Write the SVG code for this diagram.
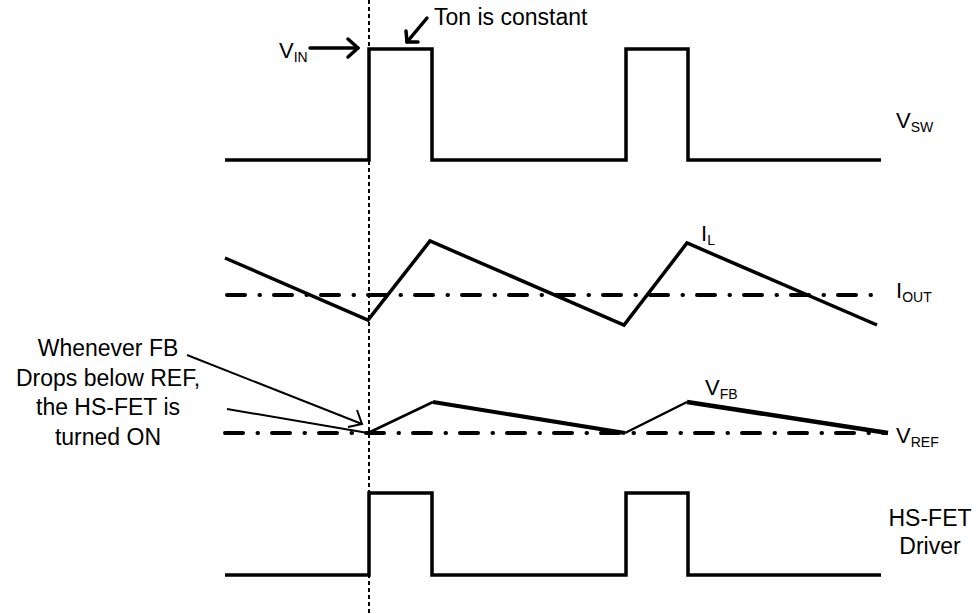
<svg xmlns="http://www.w3.org/2000/svg" width="978" height="614" viewBox="0 0 978 614">
<style>
  text { font-family: "Liberation Sans", Arial, sans-serif; fill: #000; }
  .lbl { font-size: 22px; }
  .txt { font-size: 23px; }
  .sub { font-size: 14px; }
  .wave { fill: none; stroke: #000; stroke-width: 3.5; stroke-linejoin: miter; }
  .dashdot { fill: none; stroke: #000; stroke-width: 4; stroke-linecap: round; stroke-dasharray: 18 14.5 0.5 14; }
  .guide { fill: none; stroke: #000; stroke-width: 2; stroke-dasharray: 4 3; }
  .ann { fill: none; stroke: #000; stroke-width: 2; }
  .arr { fill: none; stroke: #000; stroke-width: 3.5; stroke-linecap: round; stroke-linejoin: round; }
</style>
<rect width="978" height="614" fill="#fff"/>

<g id="guide-line">
  <line class="guide" x1="369" y1="0" x2="369" y2="614"/>
</g>

<g id="vsw">
  <path class="wave" d="M225,160 H369 V49 H432 V160 H626 V49 H688 V160 H881"/>
  <text class="lbl" x="896" y="128">V<tspan class="sub" dy="4">SW</tspan></text>
</g>

<g id="vin">
  <text class="lbl" x="279" y="58">V<tspan class="sub" dy="4">IN</tspan></text>
</g>

<g id="ton">
  <text class="txt" x="434" y="25">Ton is constant</text>
</g>

<g id="il">
  <line class="dashdot" x1="227" y1="295" x2="875" y2="295"/>
  <path class="wave" d="M225,258 L368,320 L430,241 L624,325 L687,243 L877,325"/>
  <text class="lbl" x="701" y="241">I<tspan class="sub" dy="4">L</tspan></text>
  <text class="lbl" x="896" y="298">I<tspan class="sub" dy="4">OUT</tspan></text>
</g>

<g id="vfb">
  <line class="dashdot" x1="225" y1="433" x2="886" y2="433"/>
  <path fill="none" stroke="#000" stroke-width="2.5" d="M368,433 L433,402"/>
  <path fill="none" stroke="#000" stroke-width="4" d="M433,402 L625,433"/>
  <path fill="none" stroke="#000" stroke-width="2.5" d="M625,433 L687,402"/>
  <path fill="none" stroke="#000" stroke-width="4.5" d="M687,402 L888,433"/>
  <text class="lbl" x="705" y="395">V<tspan class="sub" dy="4">FB</tspan></text>
  <text class="lbl" x="896" y="443">V<tspan class="sub" dy="4">REF</tspan></text>
</g>

<g id="note">
  <text class="txt" text-anchor="middle" x="108" y="356">Whenever FB</text>
  <text class="txt" text-anchor="middle" x="108" y="386">Drops below REF,</text>
  <text class="txt" text-anchor="middle" x="108" y="415">the HS-FET is</text>
  <text class="txt" text-anchor="middle" x="108" y="445">turned ON</text>
</g>

<g id="driver">
  <path class="wave" d="M225,575 H369 V493 H432 V575 H626 V493 H688 V575 H881"/>
  <text class="txt" text-anchor="middle" x="930" y="526">HS-FET</text>
  <text class="txt" text-anchor="middle" x="930" y="554">Driver</text>
</g>

<g id="connectors">
  <line class="arr" x1="310" y1="48" x2="358" y2="48"/>
  <polyline class="arr" points="348,39 358,48 348,57"/>
  <line class="arr" x1="427" y1="18" x2="407" y2="42"/>
  <polyline class="arr" points="406,31 407,42 418,42"/>
  <line class="ann" x1="187" y1="355" x2="362" y2="424"/>
  <polyline class="ann" points="357,410 362,424 348,427"/>
  <line class="ann" x1="227" y1="409" x2="368" y2="433"/>
</g>
</svg>
